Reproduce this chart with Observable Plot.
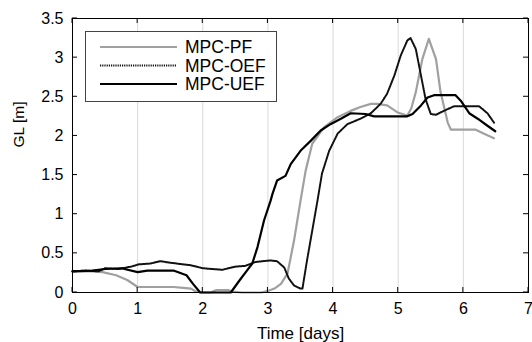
<!DOCTYPE html>
<html>
<head>
<meta charset="utf-8">
<script src="https://cdn.jsdelivr.net/npm/d3@7"></script>
<script src="https://cdn.jsdelivr.net/npm/@observablehq/plot@0.6"></script>
<style>
  html, body { margin: 0; padding: 0; background: #fff; }
  #chart { width: 532px; height: 342px; }
</style>
</head>
<body>
<div id="chart"></div>
<script>
// ---- data ----
const xTicks = [0, 1, 2, 3, 4, 5, 6, 7];
const yTicks = [0, 0.5, 1, 1.5, 2, 2.5, 3, 3.5];
const gridDays = [1, 2, 3, 4, 5, 6];
const seriesNames = ["MPC-PF", "MPC-OEF", "MPC-UEF"];

const tPF = [0, 0.3, 0.46, 0.67, 0.84, 1.0, 1.1, 1.3, 1.55, 1.7, 1.82, 1.9, 2.0, 2.12, 2.2, 2.4, 2.46, 2.6, 2.9, 3.0, 3.1, 3.2, 3.3, 3.4, 3.5, 3.58, 3.68, 3.86, 4.07, 4.27, 4.42, 4.58, 4.68, 4.83, 4.99, 5.14, 5.2, 5.27, 5.37, 5.47, 5.58, 5.65, 5.76, 5.81, 6.0, 6.19, 6.31, 6.47];
const vPF = [0.27, 0.27, 0.26, 0.22, 0.16, 0.07, 0.07, 0.07, 0.07, 0.06, 0.05, 0.01, 0, 0, 0.03, 0.03, 0.01, 0, 0, 0.02, 0.05, 0.11, 0.24, 0.66, 1.17, 1.56, 1.9, 2.11, 2.24, 2.32, 2.37, 2.41, 2.41, 2.39, 2.3, 2.26, 2.35, 2.56, 2.98, 3.24, 2.98, 2.56, 2.17, 2.08, 2.08, 2.08, 2.03, 1.97];

const tOEF = [0, 0.2, 0.4, 0.5, 0.7, 0.9, 1.02, 1.2, 1.35, 1.5, 1.6, 1.8, 2.0, 2.15, 2.3, 2.5, 2.65, 2.81, 3.04, 3.14, 3.25, 3.32, 3.4, 3.5, 3.53, 3.6, 3.68, 3.76, 3.83, 3.94, 4.07, 4.22, 4.42, 4.58, 4.73, 4.83, 4.94, 5.04, 5.14, 5.19, 5.27, 5.35, 5.42, 5.5, 5.58, 5.7, 5.86, 6.05, 6.24, 6.37, 6.47];
const vOEF = [0.27, 0.28, 0.27, 0.31, 0.3, 0.33, 0.36, 0.37, 0.4, 0.38, 0.37, 0.35, 0.31, 0.3, 0.29, 0.33, 0.34, 0.39, 0.41, 0.4, 0.32, 0.18, 0.09, 0.05, 0.05, 0.41, 0.79, 1.17, 1.52, 1.81, 2.03, 2.15, 2.22, 2.29, 2.41, 2.54, 2.77, 3.03, 3.22, 3.25, 3.11, 2.77, 2.47, 2.28, 2.27, 2.32, 2.38, 2.38, 2.38, 2.29, 2.17];

const tUEF = [0, 0.3, 0.5, 0.75, 1.0, 1.15, 1.3, 1.55, 1.75, 1.85, 1.96, 2.43, 2.56, 2.66, 2.76, 2.84, 2.94, 3.04, 3.07, 3.14, 3.27, 3.35, 3.5, 3.66, 3.81, 3.96, 4.12, 4.27, 4.5, 4.63, 4.88, 5.14, 5.22, 5.35, 5.45, 5.55, 5.88, 5.96, 6.09, 6.22, 6.37, 6.49];
const vUEF = [0.27, 0.28, 0.3, 0.31, 0.26, 0.28, 0.28, 0.28, 0.22, 0.11, 0, 0, 0.15, 0.26, 0.37, 0.58, 0.92, 1.17, 1.26, 1.43, 1.49, 1.64, 1.81, 1.94, 2.07, 2.15, 2.22, 2.29, 2.28, 2.25, 2.25, 2.25, 2.28, 2.39, 2.49, 2.52, 2.52, 2.45, 2.29, 2.22, 2.13, 2.06];

// ---- build tables ----
const zip = (ts, vs) => ts.map((t, i) => ({t, v: vs[i]}));
const pf = zip(tPF, vPF), oef = zip(tOEF, vOEF), uef = zip(tUEF, vUEF);

const FONT = "'Liberation Sans', Arial, Helvetica, sans-serif";
const xMin = xTicks[0], xMax = xTicks[xTicks.length - 1];
const yMin = yTicks[0], yMax = yTicks[yTicks.length - 1];
const DOT = "1.2,1";

const svg = Plot.plot({
  width: 532,
  height: 342,
  marginLeft: 72,
  marginRight: 4,
  marginTop: 18,
  marginBottom: 50,
  style: {fontFamily: FONT, fontSize: "16px", background: "#fff", color: "#000"},
  x: {domain: [xMin, xMax]},
  y: {domain: [yMin, yMax]},
  marks: [
    Plot.ruleX(gridDays, {stroke: "#d9d9d9", strokeWidth: 1}),
    Plot.line(pf, {x: "t", y: "v", stroke: "#a0a0a0", strokeWidth: 2.2}),
    Plot.line(oef, {x: "t", y: "v", stroke: "#111", strokeWidth: 2, strokeDasharray: DOT}),
    Plot.line(uef, {x: "t", y: "v", stroke: "#000", strokeWidth: 2.2}),
    Plot.frame({stroke: "#000", strokeWidth: 1}),
    Plot.axisX(xTicks, {tickSize: 0, tickPadding: 10, label: null, fontSize: 16}),
    Plot.axisY(yTicks, {tickSize: 0, tickPadding: 9, label: null, fontSize: 16, tickFormat: d => String(d)}),
    Plot.text(["Time [days]"], {frameAnchor: "bottom", lineAnchor: "top", dy: 34, fontSize: 17, fill: "#000"}),
    Plot.text(["GL [m]"], {frameAnchor: "left", rotate: -90, dx: -53, dy: -8, fontSize: 15.5, fill: "#000"})
  ]
});

// ---- inward MATLAB-style ticks on all four sides, positioned by Plot's scales ----
const sx = svg.scale("x"), sy = svg.scale("y");
const TL = 5;
const X0 = sx.apply(xMin), X1 = sx.apply(xMax), Y0 = sy.apply(yMin), Y1 = sy.apply(yMax);
const tg = d3.select(svg).append("g").style("stroke", "#000").style("stroke-width", "1px").style("fill", "none");
xTicks.forEach(d => {
  const px = sx.apply(d);
  tg.append("line").attr("x1", px).attr("x2", px).attr("y1", Y0).attr("y2", Y0 - TL);
  tg.append("line").attr("x1", px).attr("x2", px).attr("y1", Y1).attr("y2", Y1 + TL);
});
yTicks.forEach(d => {
  const py = sy.apply(d);
  tg.append("line").attr("x1", X0).attr("x2", X0 + TL).attr("y1", py).attr("y2", py);
  tg.append("line").attr("x1", X1).attr("x2", X1 - TL).attr("y1", py).attr("y2", py);
});

// ---- legend box inside the plot ----
const lg = d3.select(svg).append("g")
  .style("font-family", FONT).style("font-size", "17.5px");
lg.append("rect").attr("x", 85.5).attr("y", 31.5).attr("width", 191).attr("height", 70)
  .style("fill", "#fff").style("stroke", "#444").style("stroke-width", "1px");
const styles = [
  {stroke: "#a0a0a0", dash: "none", w: 2.2},
  {stroke: "#111", dash: DOT, w: 2},
  {stroke: "#000", dash: "none", w: 2.2}
];
const rowY = [47, 65.5, 84];
seriesNames.forEach((name, i) => {
  lg.append("line").attr("x1", 100).attr("x2", 177).attr("y1", rowY[i]).attr("y2", rowY[i])
    .style("stroke", styles[i].stroke).style("stroke-width", styles[i].w + "px")
    .style("stroke-dasharray", styles[i].dash);
  lg.append("text").attr("x", 185).attr("y", rowY[i]).attr("dy", "0.35em")
    .style("text-anchor", "start").style("fill", "#000").style("stroke", "none").text(name);
});

document.getElementById("chart").appendChild(svg);
</script>
</body>
</html>
